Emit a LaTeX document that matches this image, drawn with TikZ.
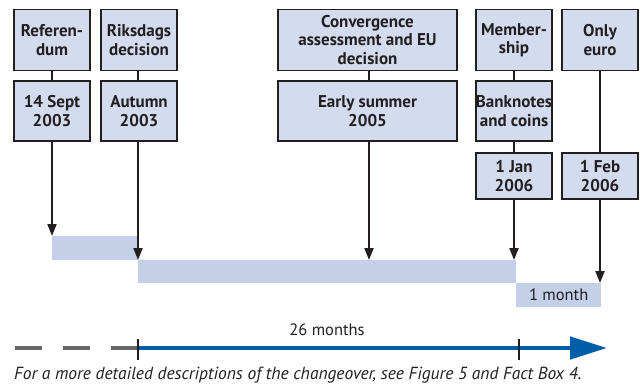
\documentclass[tikz,border=0pt]{standalone}
\usepackage{fontspec}
\setmainfont{PT Sans}
\usetikzlibrary{arrows.meta}
\definecolor{boxfill}{HTML}{D3DBEE}
\definecolor{barfill}{HTML}{C4CFE8}
\definecolor{ink}{HTML}{231F20}
\definecolor{axisblue}{HTML}{005DA8}
\definecolor{axisgray}{HTML}{666666}
\begin{document}
\begin{tikzpicture}[x=1pt,y=-1pt,
  evbox/.style={draw=ink, line width=1.3pt, fill=boxfill, text=ink,
    font=\bfseries\fontsize{17}{18.5}\selectfont, align=center,
    inner sep=0pt, minimum width=76pt},
  tall/.style={minimum height=61pt},
  mid/.style={minimum height=60pt},
  short/.style={minimum height=46pt},
  bar/.style={fill=barfill, inner sep=0pt, anchor=north west, text=ink,
    font=\fontsize{16.5}{18}\selectfont},
  link/.style={draw=ink, line width=2pt},
  drop/.style={link, -{Triangle[length=12pt,width=9pt]}},
  tick/.style={draw=ink, line width=2pt},
  plain/.style={text=ink, font=\fontsize{16.5}{18}\selectfont, inner sep=0pt}]
\useasboundingbox (0,0) rectangle (640,383);

% period bars
\node[bar, minimum width=86pt, minimum height=24pt] (bar1) at (52,236) {};
\node[bar, minimum width=378pt, minimum height=23pt] (bar2) at (138,260) {};
\node[bar, minimum width=85pt, minimum height=24pt] (bar3) at (516,283) {1 month};

% event boxes
\node[evbox, tall] (refA) at (52,40) {Referen-\\dum};
\node[evbox, mid]  (refB) at (52,111) {14 Sept\\2003};
\node[evbox, tall] (rikA) at (139,40) {Riksdags\\decision};
\node[evbox, mid]  (rikB) at (139,111) {Autumn\\2003};
\node[evbox, tall, minimum width=179pt] (conA) at (367.5,40) {Convergence\\assessment and EU\\decision};
\node[evbox, mid,  minimum width=179pt] (conB) at (367.5,111) {Early summer\\2005};
\node[evbox, tall] (memA) at (514,40) {Member-\\ship};
\node[evbox, mid]  (memB) at (514,111) {Banknotes\\and coins};
\node[evbox, short] (memC) at (514,176) {1 Jan\\2006};
\node[evbox, tall] (eurA) at (600,40) {Only\\euro};
\node[evbox, short] (eurB) at (600,176) {1 Feb\\2006};

% links between boxes
\draw[link] (refA.south -| 52,0) -- (refB.north -| 52,0);
\draw[link] (rikA.south -| 138,0) -- (rikB.north -| 138,0);
\draw[link] (conA.south -| 369,0) -- (conB.north -| 369,0);
\draw[link] (memA) -- (memB);
\draw[link] (memB) -- (memC);
\draw[link] (eurA) -- (eurB);

% arrows down to the bars
\draw[drop] (refB.south -| 52,0) -- (bar1.north west);
\draw[drop] (rikB.south -| 138,0) -- (bar2.north west);
\draw[drop] (conB.south -| 369,0) -- (bar2.north -| 369,0);
\draw[drop] (memC.south) -- (memC.south |- bar2.north);
\draw[drop] (eurB.south) -- (eurB.south |- bar3.north);

% time axis
\coordinate (ax0) at (15,348);
\coordinate (axs) at (138,348);
\coordinate (axe) at (607,348);
\draw[axisgray, line width=4.5pt, dash pattern=on 27pt off 21pt] (ax0) -- (axs);
\draw[axisblue, line width=4.5pt, -{Triangle[length=37pt,width=22pt]}] (axs) -- (axe);
\draw[tick] (138,339) -- (138,360);
\draw[tick] (519,339) -- (519,360);
\node[plain] (span) at (327,330) {26 months};

\node[plain, anchor=base west, font=\itshape\fontsize{17.5}{19}\selectfont] (note) at (14,379)
  {For a more detailed descriptions of the changeover, see Figure 5 and Fact Box 4.};
\end{tikzpicture}
\end{document}
